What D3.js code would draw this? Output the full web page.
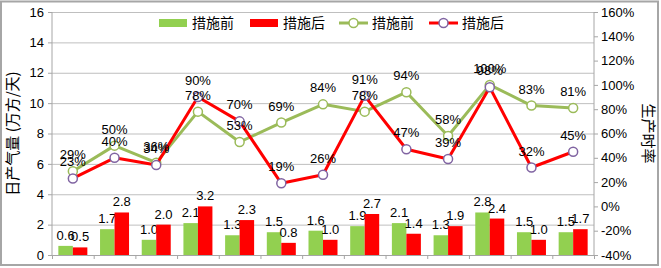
<!DOCTYPE html>
<html lang="zh">
<head>
<meta charset="UTF-8">
<title>日产气量与生产时率</title>
<script src="https://d3js.org/d3.v7.min.js"></script>
<style>
  html, body { margin: 0; padding: 0; background: #fff; }
  body { font-family: "Liberation Sans", Arial, "Noto Sans CJK SC", sans-serif; }
  svg text { fill: #000; }
  .grid line { stroke: #bfbfbf; stroke-width: 1; }
  .axis path, .axis line { stroke: #a6a6a6; }
  .axis text { font-size: 13px; fill: #000; }
</style>
</head>
<body>
<svg id="chart" width="661" height="268"></svg>
<script>
// categories (13 groups, no visible labels)
const categories = ["1","2","3","4","5","6","7","8","9","10","11","12","13"];
// daily gas output (万方/天)
const outputBefore = [0.6, 1.7, 1.0, 2.1, 1.3, 1.5, 1.6, 1.9, 2.1, 1.3, 2.8, 1.5, 1.5];
const outputAfter  = [0.5, 2.8, 2.0, 3.2, 2.3, 0.8, 1.0, 2.7, 1.4, 1.9, 2.4, 1.0, 1.7];
// production time rate (%)
const rateBefore = [29, 50, 36, 78, 53, 69, 84, 78, 94, 58, 100, 83, 81];
const rateAfter  = [23, 40, 34, 90, 70, 19, 26, 91, 47, 39, 98, 32, 45];
// tick values
const leftTicks = [0, 2, 4, 6, 8, 10, 12, 14, 16];
const rightTicks = [-40, -20, 0, 20, 40, 60, 80, 100, 120, 140, 160];
const legendNames = ["措施前", "措施后", "措施前", "措施后"];

const svg = d3.select("#chart");
const plot = { left: 52, right: 594, top: 12, bottom: 255 };

const green = "#92d050", red = "#ff0000", lineGreen = "#9bbb59", purple = "#8064a2";

// outer border
svg.append("rect")
  .attr("x", 1).attr("y", 1.5).attr("width", 657).attr("height", 263.5)
  .attr("fill", "none").attr("stroke", "#a6a6a6").attr("stroke-width", 2);

const x = d3.scaleBand().domain(categories).range([plot.left, plot.right]);
const yL = d3.scaleLinear().domain([0, 16]).range([plot.bottom, plot.top]);
const yR = d3.scaleLinear().domain([-40, 160]).range([plot.bottom, plot.top]);

// gridlines
svg.append("g").attr("class", "grid")
  .selectAll("line").data(leftTicks.slice(1)).enter().append("line")
  .attr("x1", plot.left).attr("x2", plot.right)
  .attr("y1", d => yL(d) + 0.5).attr("y2", d => yL(d) + 0.5);

// axes
const axL = svg.append("g").attr("class", "axis")
  .attr("transform", `translate(${plot.left},0)`)
  .call(d3.axisLeft(yL).tickValues(leftTicks).tickSize(4).tickPadding(4));
const axR = svg.append("g").attr("class", "axis")
  .attr("transform", `translate(${plot.right},0)`)
  .call(d3.axisRight(yR).tickValues(rightTicks).tickSize(4).tickPadding(3).tickFormat(d => d + "%"));
[axL, axR].forEach(a => a.select(".domain").attr("d", `M0,${plot.top}V${plot.bottom}`));

// bottom axis with ticks at category boundaries
const bAx = svg.append("g").attr("class", "axis");
bAx.append("line")
  .attr("x1", plot.left).attr("x2", plot.right)
  .attr("y1", plot.bottom + 0.5).attr("y2", plot.bottom + 0.5);
bAx.selectAll(".tk").data(categories.concat(["end"])).enter().append("line")
  .attr("x1", (d, i) => plot.left + i * x.step() + 0.5)
  .attr("x2", (d, i) => plot.left + i * x.step() + 0.5)
  .attr("y1", plot.bottom).attr("y2", plot.bottom + 4);

// bars
const barW = 14.5;
const bars = svg.append("g");
function drawBars(vals, color, off) {
  bars.selectAll(null).data(vals).enter().append("rect")
    .attr("x", (d, i) => x(categories[i]) + x.bandwidth() / 2 + off)
    .attr("y", d => yL(d))
    .attr("width", barW)
    .attr("height", d => yL(0) - yL(d))
    .attr("fill", color);
  bars.selectAll(null).data(vals).enter().append("text")
    .attr("x", (d, i) => x(categories[i]) + x.bandwidth() / 2 + off + barW / 2)
    .attr("y", d => yL(d) - 6)
    .attr("text-anchor", "middle")
    .attr("font-size", 13)
    .text(d => d.toFixed(1));
}
drawBars(outputBefore, green, -barW);
drawBars(outputAfter, red, 0);

// lines
const cx = i => x(categories[i]) + x.bandwidth() / 2;
function drawLine(vals, color, markerStroke) {
  const g = svg.append("g");
  g.append("path")
    .datum(vals)
    .attr("fill", "none").attr("stroke", color).attr("stroke-width", 3)
    .attr("stroke-linejoin", "round")
    .attr("d", d3.line().x((d, i) => cx(i)).y(d => yR(d)));
  g.selectAll("circle").data(vals).enter().append("circle")
    .attr("cx", (d, i) => cx(i)).attr("cy", d => yR(d)).attr("r", 4.5)
    .attr("fill", "#fff").attr("stroke", markerStroke).attr("stroke-width", 1.5);
  return g;
}
drawLine(rateBefore, lineGreen, lineGreen);
drawLine(rateAfter, red, purple);

// line labels
function drawLineLabels(vals) {
  svg.append("g").selectAll("text").data(vals).enter().append("text")
    .attr("x", (d, i) => cx(i)).attr("y", d => yR(d) - 12)
    .attr("text-anchor", "middle").attr("font-size", 13)
    .text(d => d + "%");
}
drawLineLabels(rateBefore);
drawLineLabels(rateAfter);

// legend
const lg = svg.append("g").attr("font-family", "'Noto Sans CJK SC', sans-serif");
const legendX = [159, 250, 339, 429];
const ly = 23;
lg.append("rect").attr("x", legendX[0]).attr("y", ly - 4).attr("width", 28).attr("height", 8).attr("fill", green);
lg.append("rect").attr("x", legendX[1]).attr("y", ly - 4).attr("width", 28).attr("height", 8).attr("fill", red);
[[lineGreen, lineGreen], [red, purple]].forEach((c, k) => {
  const x0 = legendX[2 + k];
  lg.append("line").attr("x1", x0).attr("x2", x0 + 29).attr("y1", ly).attr("y2", ly)
    .attr("stroke", c[0]).attr("stroke-width", 3);
  lg.append("circle").attr("cx", x0 + 14.5).attr("cy", ly).attr("r", 4.5)
    .attr("fill", "#fff").attr("stroke", c[1]).attr("stroke-width", 1.5);
});
lg.selectAll("text").data(legendNames).enter().append("text")
  .attr("x", (d, i) => legendX[i] + 33).attr("y", ly + 5)
  .attr("font-size", 14).text(d => d);

// axis titles
svg.append("text")
  .attr("transform", `translate(18,${(plot.top + plot.bottom) / 2}) rotate(-90)`)
  .attr("text-anchor", "middle").attr("font-size", 15)
  .attr("font-family", "'Noto Sans CJK SC', sans-serif")
  .text("日产气量 (万方/天)");
svg.append("text")
  .attr("transform", `translate(643,${(plot.top + plot.bottom) / 2}) rotate(90)`)
  .attr("text-anchor", "middle").attr("font-size", 15)
  .attr("font-family", "'Noto Sans CJK SC', sans-serif")
  .text("生产时率");
</script>
</body>
</html>
